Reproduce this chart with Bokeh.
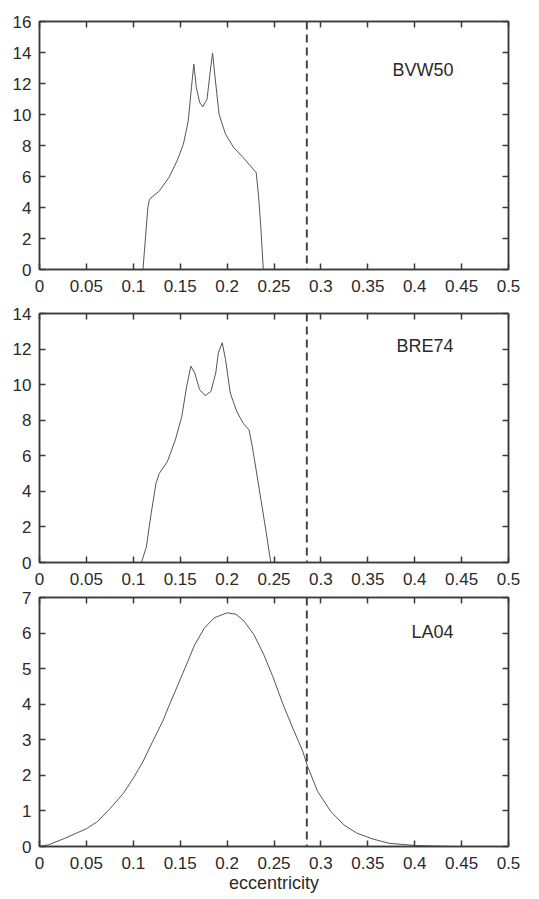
from bokeh.plotting import figure
from bokeh.layouts import column
from bokeh.models import Range1d, FixedTicker, LinearAxis, Span, Label
from bokeh.embed import file_html
from bokeh.resources import INLINE

# ---------------- data ----------------
ecc_threshold = 0.285

x_ticks = [0, 0.05, 0.1, 0.15, 0.2, 0.25, 0.3, 0.35, 0.4, 0.45, 0.5]
x_tick_labels = ["0", "0.05", "0.1", "0.15", "0.2", "0.25", "0.3", "0.35", "0.4", "0.45", "0.5"]

bvw50_x = [0.0, 0.1103, 0.1155, 0.1172, 0.1276, 0.1379, 0.1466, 0.1534, 0.1586, 0.162,
           0.1645, 0.1672, 0.1707, 0.1741, 0.1786, 0.1821, 0.1845, 0.1872, 0.1914, 0.1983,
           0.207, 0.2172, 0.231, 0.2334, 0.236, 0.2386, 0.5]
bvw50_y = [0.0, 0.0, 3.99, 4.53, 5.06, 5.93, 7.0, 8.08, 9.59, 11.75,
           13.25, 11.75, 10.78, 10.5, 10.99, 12.82, 13.97, 12.4, 10.02, 8.73,
           7.87, 7.22, 6.25, 4.85, 2.69, 0.0, 0.0]

bre74_x = [0.0, 0.1086, 0.1138, 0.119, 0.1241, 0.1276, 0.1362, 0.1448, 0.1517, 0.1569,
           0.1614, 0.1655, 0.1707, 0.1766, 0.1828, 0.1879, 0.1907, 0.1948, 0.1983, 0.2034,
           0.2103, 0.2172, 0.2234, 0.2269, 0.231, 0.2362, 0.2414, 0.2466, 0.5]
bre74_y = [0.0, 0.0, 0.85, 2.74, 4.43, 5.0, 5.66, 6.89, 8.21, 9.91,
           11.04, 10.66, 9.72, 9.38, 9.62, 10.66, 11.79, 12.36, 11.42, 9.53,
           8.49, 7.83, 7.45, 6.51, 5.19, 3.49, 1.79, 0.0, 0.0]

la04_x = [0.0, 0.0097, 0.027, 0.05, 0.0618, 0.0757, 0.0896, 0.1, 0.1104, 0.1208, 0.1313,
          0.14, 0.1448, 0.1552, 0.1656, 0.176, 0.1865, 0.2, 0.2094, 0.218, 0.2285, 0.239,
          0.2493, 0.2597, 0.27, 0.2806, 0.2858, 0.2965, 0.3104, 0.3243, 0.338, 0.3554,
          0.3728, 0.4, 0.4243, 0.445]
la04_y = [0.0, 0.05, 0.23, 0.5, 0.7, 1.08, 1.5, 1.92, 2.39, 2.96, 3.52,
          4.08, 4.37, 5.02, 5.68, 6.15, 6.43, 6.57, 6.53, 6.34, 5.96, 5.4,
          4.74, 3.99, 3.33, 2.68, 2.25, 1.55, 0.99, 0.61, 0.38, 0.21,
          0.09, 0.03, 0.01, 0.0]

panels = [
    dict(name="BVW50", x=bvw50_x, y=bvw50_y, ymax=16, yticks=[0, 2, 4, 6, 8, 10, 12, 14, 16],
         label_y=12.86, height=300, top=21, bottom=31, xlabel=None),
    dict(name="BRE74", x=bre74_x, y=bre74_y, ymax=14, yticks=[0, 2, 4, 6, 8, 10, 12, 14],
         label_y=12.2, height=287, top=13, bottom=25, xlabel=None),
    dict(name="LA04", x=la04_x, y=la04_y, ymax=7, yticks=[0, 1, 2, 3, 4, 5, 6, 7],
         label_y=6.04, height=310, top=10, bottom=51, xlabel="eccentricity"),
]

FONT = "Liberation Sans"
TXT = "#2a2a2a"
AX = "#3a3a3a"
overrides = {t: l for t, l in zip(x_ticks, x_tick_labels)}

figs = []
for pnl in panels:
    p = figure(width=535, height=pnl["height"], output_backend="svg", toolbar_location=None,
               x_range=Range1d(0, 0.5), y_range=Range1d(0, pnl["ymax"]),
               min_border_left=39, min_border_right=27,
               min_border_top=pnl["top"], min_border_bottom=pnl["bottom"])
    p.grid.visible = False
    p.outline_line_color = AX
    p.outline_line_width = 1.5
    p.background_fill_color = "white"
    p.border_fill_color = "white"

    p.xaxis.ticker = FixedTicker(ticks=x_ticks)
    p.yaxis.ticker = FixedTicker(ticks=pnl["yticks"])
    p.xaxis.major_label_overrides = overrides

    for ax in [p.xaxis[0], p.yaxis[0]]:
        ax.major_tick_in = 6
        ax.major_tick_out = 0
        ax.minor_tick_line_color = None
        ax.axis_line_color = AX
        ax.axis_line_width = 1.5
        ax.major_tick_line_color = AX
        ax.major_tick_line_width = 1.5
        ax.major_label_text_font = FONT
        ax.major_label_text_font_size = "17px"
        ax.major_label_text_color = TXT
    p.xaxis.major_label_standoff = 10
    p.yaxis.major_label_standoff = 8

    if pnl["xlabel"]:
        p.xaxis.axis_label = pnl["xlabel"]
        p.xaxis.axis_label_text_font = FONT
        p.xaxis.axis_label_text_font_size = "18px"
        p.xaxis.axis_label_text_font_style = "normal"
        p.xaxis.axis_label_text_color = TXT
        p.xaxis.axis_label_standoff = 1

    top_ax = LinearAxis(ticker=FixedTicker(ticks=x_ticks))
    right_ax = LinearAxis(ticker=FixedTicker(ticks=pnl["yticks"]))
    for ax in [top_ax, right_ax]:
        ax.major_tick_in = 6
        ax.major_tick_out = 0
        ax.minor_tick_line_color = None
        ax.axis_line_color = AX
        ax.axis_line_width = 1.5
        ax.major_tick_line_color = AX
        ax.major_tick_line_width = 1.5
        ax.major_label_text_font_size = "1px"
        ax.major_label_text_color = None
        ax.major_label_standoff = 0
    p.add_layout(top_ax, "above")
    p.add_layout(right_ax, "right")

    p.line(pnl["x"], pnl["y"], line_color="#555555", line_width=1)

    p.add_layout(Span(location=ecc_threshold, dimension="height", line_color="#444444",
                      line_width=2, line_dash="8 5"))

    p.add_layout(Label(x=0.4414, y=pnl["label_y"], text=pnl["name"], text_align="right",
                       text_baseline="middle", text_font=FONT, text_font_size="18px",
                       text_color=TXT))
    figs.append(p)

layout = column(*figs, spacing=0)
open("out.html", "w").write(file_html(layout, INLINE))
